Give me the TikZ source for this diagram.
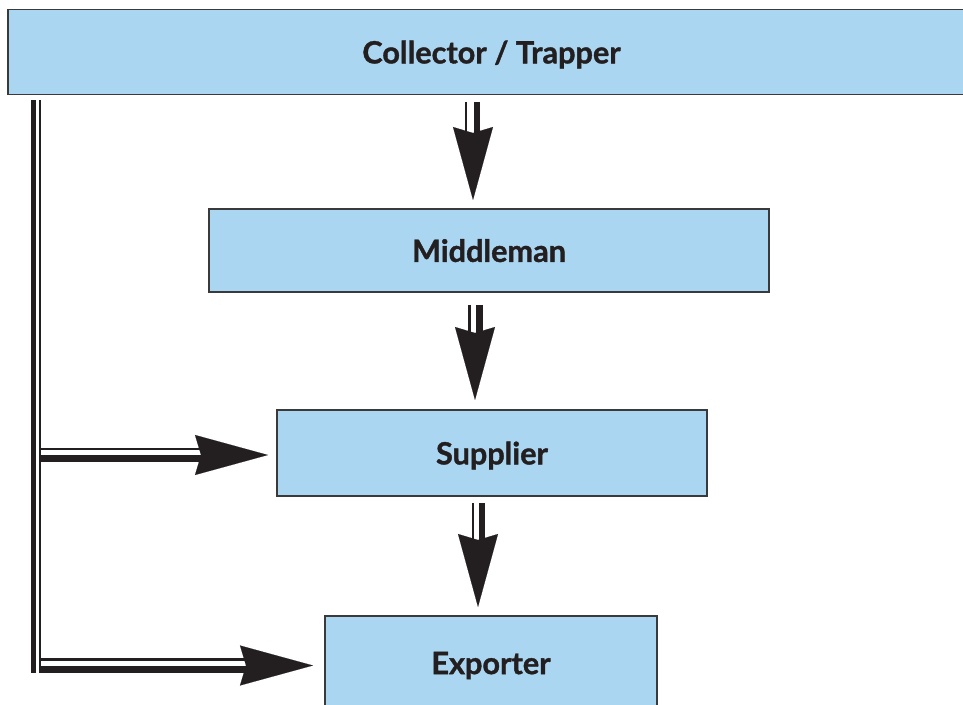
\documentclass[tikz,border=0pt]{standalone}
\usepackage{fontspec}
\setmainfont{Lato}[BoldFeatures={FakeBold=1.2}]
\usetikzlibrary{arrows.meta}
\definecolor{boxfill}{HTML}{ABD6F1}
\definecolor{boxline}{HTML}{3A3A3A}
\definecolor{ink}{HTML}{231F20}
\tikzset{
  box/.style={draw=boxline, fill=boxfill, line width=1pt, inner sep=0pt,
    font=\fontsize{23}{27}\selectfont\bfseries, text=ink, text depth=0pt},
  thinshaft/.style={draw=ink, line width=1.9pt},
  thickshaft/.style={draw=ink, line width=5.2pt},
  headtip/.style={draw=white, line width=0.1pt,
    -{Stealth[length=54.75pt, width=30pt, inset=4.5pt, ink]}},
}
\begin{document}
\begin{tikzpicture}[x=0.75pt, y=-0.75pt]
\useasboundingbox (0,0) rectangle (963,705);
% boxes
\node[box, minimum width=967*0.75pt, minimum height=85*0.75pt] (ct) at (491.5,52) {Collector / Trapper};
\node[box, minimum width=560*0.75pt, minimum height=83*0.75pt] (mm) at (489,250.5) {Middleman};
\node[box, minimum width=430*0.75pt, minimum height=86*0.75pt] (sp) at (492,453) {Supplier};
\node[box, minimum width=332*0.75pt, minimum height=94*0.75pt] (ex) at (491,663) {Exporter};
% arrow 1: collector -> middleman
\coordinate (a1h) at (473,118); \coordinate (a1t) at (473,200);
\coordinate (a1s1) at (466,102); \coordinate (a1e1) at (466,134);
\coordinate (a1s2) at (477,102); \coordinate (a1e2) at (477,134);
\draw[headtip] (a1h) -- (a1t);
\draw[thinshaft] (a1s1) -- (a1e1);
\draw[thickshaft] (a1s2) -- (a1e2);
% arrow 2: middleman -> supplier
\coordinate (a2h) at (475,318); \coordinate (a2t) at (475,400);
\coordinate (a2s1) at (469.5,305); \coordinate (a2e1) at (469.5,334);
\coordinate (a2s2) at (479.5,305); \coordinate (a2e2) at (479.5,334);
\draw[headtip] (a2h) -- (a2t);
\draw[thinshaft] (a2s1) -- (a2e1);
\draw[thickshaft] (a2s2) -- (a2e2);
% arrow 3: supplier -> exporter
\coordinate (a3h) at (478,525); \coordinate (a3t) at (478,607);
\coordinate (a3s1) at (473,503); \coordinate (a3e1) at (473,540);
\coordinate (a3s2) at (482,503); \coordinate (a3e2) at (482,540);
\draw[headtip] (a3h) -- (a3t);
\draw[thinshaft] (a3s1) -- (a3e1);
\draw[thickshaft] (a3s2) -- (a3e2);
% left vertical bar
\coordinate (vb1) at (33.5,100); \coordinate (ve1) at (33.5,673);
\coordinate (vb2) at (40,100); \coordinate (ve2) at (40,673);
\draw[draw=ink, line width=3.9pt] (vb1) -- (ve1);
\draw[draw=ink, line width=1.6pt] (vb2) -- (ve2);
% horizontal arrow to supplier
\coordinate (h1h) at (186,455); \coordinate (h1t) at (268,455);
\coordinate (h1s1) at (40,449); \coordinate (h1e1) at (202,449);
\coordinate (h1s2) at (40,458.5); \coordinate (h1e2) at (202,458.5);
\draw[headtip] (h1h) -- (h1t);
\draw[thinshaft] (h1s1) -- (h1e1);
\draw[thickshaft] (h1s2) -- (h1e2);
% horizontal arrow to exporter
\coordinate (h2h) at (231,665.5); \coordinate (h2t) at (313,665.5);
\coordinate (h2s1) at (40,659.5); \coordinate (h2e1) at (248,659.5);
\coordinate (h2s2) at (40,669.5); \coordinate (h2e2) at (248,669.5);
\draw[headtip] (h2h) -- (h2t);
\draw[thinshaft] (h2s1) -- (h2e1);
\draw[thickshaft] (h2s2) -- (h2e2);
\end{tikzpicture}
\end{document}
